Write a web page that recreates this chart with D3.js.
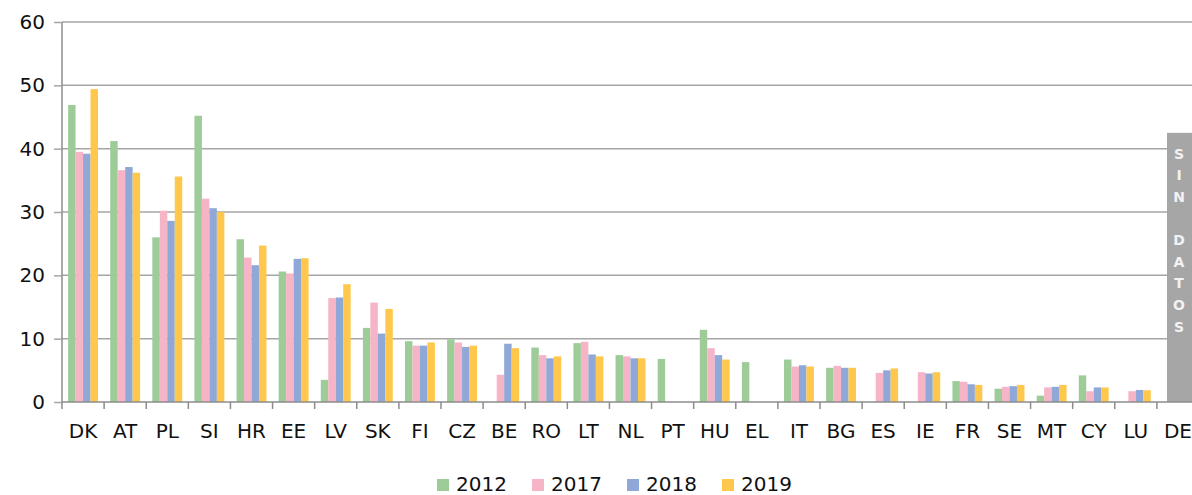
<!DOCTYPE html>
<html>
<head>
<meta charset="utf-8" />
<title>Bar chart</title>
<style>
body { margin: 0; background: #fff; }
svg text { font-family: "DejaVu Sans", Verdana, sans-serif; fill: #111; }
</style>
<script src="https://d3js.org/d3.v7.min.js" charset="utf-8"></script>
</head>
<body>
<svg class="chart"></svg>
<script>

/* data */
var countries = ["DK","AT","PL","SI","HR","EE","LV","SK","FI","CZ","BE","RO","LT","NL",
                 "PT","HU","EL","IT","BG","ES","IE","FR","SE","MT","CY","LU","DE"];
var years = ["2012","2017","2018","2019"];
var v2012 = [46.9,41.2,26.0,45.2,25.7,20.6,3.5,11.7,9.6,9.9,null,8.6,9.3,7.4,
             6.8,11.4,6.3,6.7,5.4,null,null,3.3,2.1,1.0,4.2,null,null];
var v2017 = [39.5,36.6,30.2,32.1,22.8,20.3,16.4,15.7,8.9,9.4,4.3,7.4,9.5,7.2,
             null,8.5,null,5.6,5.7,4.6,4.7,3.2,2.4,2.3,1.7,1.7,null];
var v2018 = [39.2,37.1,28.6,30.6,21.6,22.6,16.5,10.8,8.9,8.7,9.2,6.9,7.5,6.9,
             null,7.4,null,5.8,5.4,5.0,4.5,2.8,2.5,2.4,2.3,1.9,null];
var v2019 = [49.4,36.2,35.6,30.0,24.7,22.7,18.6,14.7,9.4,8.9,8.5,7.2,7.2,6.9,
             null,6.7,null,5.6,5.4,5.3,4.7,2.7,2.7,2.7,2.3,1.85,null];
var yTicks = [0,10,20,30,40,50,60];
var noDataCountry = "DE";
var noDataLabel = "SIN DATOS";

var series = [v2012, v2017, v2018, v2019];
var colors = ["#9dcc98","#f6b4c7","#8fa8d8","#ffc84c"];

var width = 1192, height = 495;

var svg = d3.select(".chart")
    .attr("width", width)
    .attr("height", height);

// scales
var x = d3.scaleBand()
    .domain(countries)
    .range([62, 1199]);

var bw = x.bandwidth();
var x1 = d3.scaleBand()
    .domain(years)
    .range([bw * 0.145, bw * 0.855]);

var y = d3.scaleLinear()
    .domain([0, 60])
    .range([402, 22]);

var c = d3.scaleOrdinal().domain(years).range(colors);

// gridlines
svg.append("g")
    .selectAll("line")
    .data(yTicks.slice(1))
    .enter()
    .append("line")
    .attr("x1", x.range()[0])
    .attr("x2", width)
    .attr("y1", function(d){ return y(d); })
    .attr("y2", function(d){ return y(d); })
    .attr("stroke", "#a6a6a6")
    .attr("stroke-width", 1.5);

// bars
var rows = countries.map(function(k, i){
  return { country: k, values: years.map(function(yr, j){ return { year: yr, value: series[j][i] }; }) };
});

var groups = svg.append("g")
    .selectAll("g")
    .data(rows)
    .enter()
    .append("g")
    .attr("transform", function(d){ return "translate(" + x(d.country) + ",0)"; });

groups.selectAll("rect")
    .data(function(d){ return d.values.filter(function(v){ return v.value != null; }); })
    .enter()
    .append("rect")
    .attr("x", function(d){ return x1(d.year); })
    .attr("width", x1.bandwidth())
    .attr("y", function(d){ return y(d.value); })
    .attr("height", function(d){ return y(0) - y(d.value); })
    .attr("fill", function(d){ return c(d.year); });

// "no data" box
var boxX = x(noDataCountry) + bw * 0.24;
svg.append("rect")
    .attr("x", boxX)
    .attr("y", y(42.5))
    .attr("width", width - boxX)
    .attr("height", y(0) - y(42.5))
    .attr("fill", "#a6a6a6");

svg.append("g")
    .selectAll("text")
    .data(noDataLabel.split(""))
    .enter()
    .append("text")
    .attr("x", boxX + 12)
    .attr("y", function(d, i){ return y(42.5) + 26 + i * 21.6; })
    .attr("text-anchor", "middle")
    .style("font-size", "14px")
    .style("font-weight", "bold")
    .style("fill", "#f2f2f2")
    .text(function(d){ return d; });

// y axis
var yAxis = d3.axisLeft(y)
    .tickValues(yTicks)
    .tickSize(8)
    .tickPadding(9);

var yg = svg.append("g")
    .attr("transform", "translate(" + x.range()[0] + ",0)")
    .call(yAxis);
yg.select(".domain").attr("stroke", "#8c8c8c").attr("stroke-width", 1.5).attr("d", "M0," + y(60) + "V" + y(0));
yg.selectAll(".tick line").attr("stroke", "#a6a6a6").attr("stroke-width", 1.5);
yg.selectAll(".tick text")
    .style("font-size", "20px")
    .style("font-family", "'DejaVu Sans', sans-serif")
    .attr("fill", "#111");

// x axis baseline, boundary ticks, labels
svg.append("line")
    .attr("x1", x.range()[0])
    .attr("x2", width)
    .attr("y1", y(0))
    .attr("y2", y(0))
    .attr("stroke", "#8c8c8c")
    .attr("stroke-width", 1.5);

svg.append("g")
    .selectAll("line")
    .data(countries)
    .enter()
    .append("line")
    .attr("x1", function(d){ return x(d); })
    .attr("x2", function(d){ return x(d); })
    .attr("y1", y(0))
    .attr("y2", y(0) + 7)
    .attr("stroke", "#8c8c8c")
    .attr("stroke-width", 1.5);

svg.append("g")
    .selectAll("text")
    .data(countries)
    .enter()
    .append("text")
    .attr("x", function(d){ return x(d) + bw / 2; })
    .attr("y", y(0) + 36)
    .attr("text-anchor", "middle")
    .style("font-size", "20px")
    .text(function(d){ return d; });

// legend
var legend = svg.append("g")
    .selectAll("g")
    .data(years)
    .enter()
    .append("g")
    .attr("transform", function(d, i){ return "translate(" + (437 + i * 95) + ",479)"; });

legend.append("rect")
    .attr("width", 12)
    .attr("height", 12)
    .attr("fill", function(d){ return c(d); });

legend.append("text")
    .attr("x", 19)
    .attr("y", 12)
    .style("font-size", "20px")
    .text(function(d){ return d; });

</script>
</body>
</html>
